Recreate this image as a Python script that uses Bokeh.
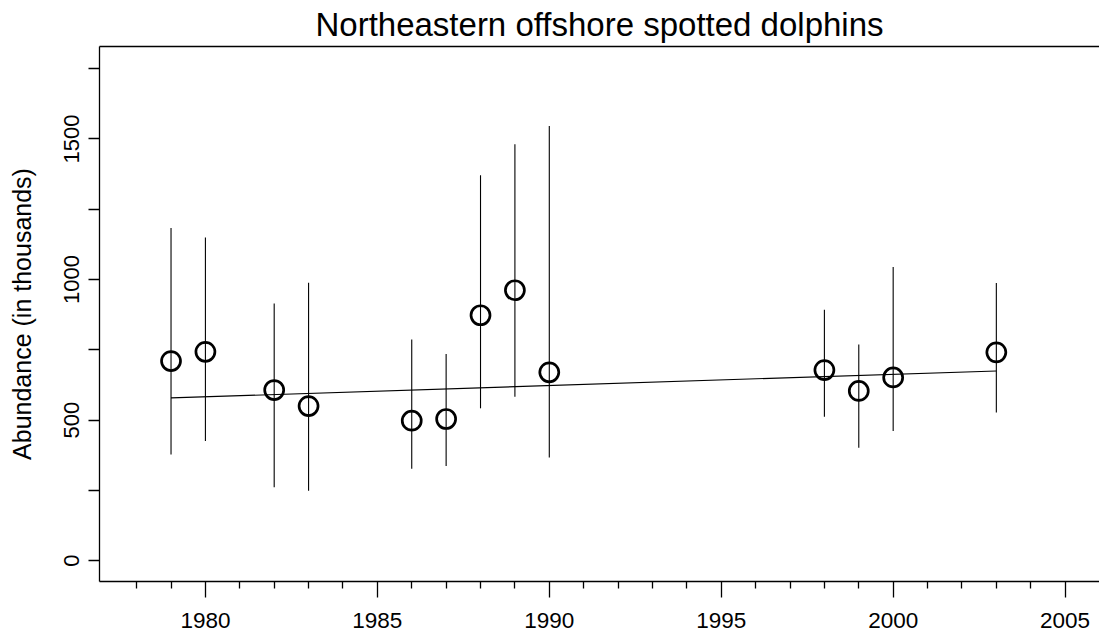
from bokeh.plotting import figure
from bokeh.models import FixedTicker, LinearAxis, Range1d
from bokeh.embed import file_html
from bokeh.resources import INLINE

# Data (abundance in thousands)
years = [1979, 1980, 1982, 1983, 1986, 1987, 1988, 1989, 1990, 1998, 1999, 2000, 2003]
abundance = [710, 743, 607, 550, 498, 504, 873, 962, 670, 678, 604, 652, 741]
lower = [378, 426, 261, 249, 327, 337, 542, 583, 367, 512, 402, 461, 527]
upper = [1183, 1150, 915, 989, 787, 735, 1371, 1481, 1546, 893, 769, 1045, 988]
trend_years = [1979, 2003]
trend_values = [579, 675]

x_major = [1980, 1985, 1990, 1995, 2000, 2005]
x_minor = [y for y in range(1978, 2005) if y % 5 != 0]
y_major = [0, 500, 1000, 1500]
y_minor = [250, 750, 1250, 1750]

FONT = "Liberation Sans"

p = figure(width=1099, height=635, output_backend="svg", toolbar_location=None,
           x_range=Range1d(1976.92, 2006.0), y_range=Range1d(-74, 1829),
           min_border_left=99, min_border_right=0, min_border_top=10, min_border_bottom=54)
p.title.text = "Northeastern offshore spotted dolphins"
p.title.align = "center"
p.title.text_font = FONT
p.title.text_font_size = "33px"
p.title.text_font_style = "normal"
p.title.text_color = "black"
p.title.standoff = 7

p.grid.visible = False
p.outline_line_color = None
p.background_fill_color = "white"
p.border_fill_color = "white"

xa = p.xaxis[0]
xa.ticker = FixedTicker(ticks=x_major, minor_ticks=x_minor)
xa.major_tick_out = 16
xa.major_tick_in = 0
xa.minor_tick_out = 7
xa.minor_tick_in = 0
xa.axis_line_width = 1.3
xa.major_tick_line_width = 1.3
xa.minor_tick_line_width = 1.3
xa.axis_line_color = "black"
xa.major_tick_line_color = "black"
xa.minor_tick_line_color = "black"
xa.major_label_text_font = FONT
xa.major_label_text_font_size = "22.5px"
xa.major_label_text_color = "black"
xa.major_label_standoff = 15

ya = p.yaxis[0]
ya.ticker = FixedTicker(ticks=y_major, minor_ticks=y_minor)
ya.major_tick_out = 11
ya.major_tick_in = 0
ya.minor_tick_out = 11
ya.minor_tick_in = 0
ya.axis_line_width = 1.3
ya.major_tick_line_width = 1.3
ya.minor_tick_line_width = 1.3
ya.axis_line_color = "black"
ya.major_tick_line_color = "black"
ya.minor_tick_line_color = "black"
ya.major_label_text_font = FONT
ya.major_label_text_font_size = "22px"
ya.major_label_text_color = "black"
ya.major_label_orientation = "vertical"
ya.major_label_standoff = 9
ya.axis_label = "Abundance (in thousands)"
ya.axis_label_text_font = FONT
ya.axis_label_text_font_size = "25px"
ya.axis_label_text_font_style = "normal"
ya.axis_label_text_color = "black"
ya.axis_label_standoff = 26

top = LinearAxis(ticker=FixedTicker(ticks=[]), major_tick_line_color=None,
                 minor_tick_line_color=None, axis_line_width=1.3,
                 axis_line_color="black", major_label_standoff=0)
p.add_layout(top, "above")

p.segment(x0=years, y0=lower, x1=years, y1=upper, line_color="black", line_width=1.1)
p.line(trend_years, trend_values, line_color="black", line_width=1.1)
p.scatter(years, abundance, marker="circle", size=19, fill_color=None,
          line_color="black", line_width=2.7)

open("out.html", "w").write(file_html(p, INLINE))
